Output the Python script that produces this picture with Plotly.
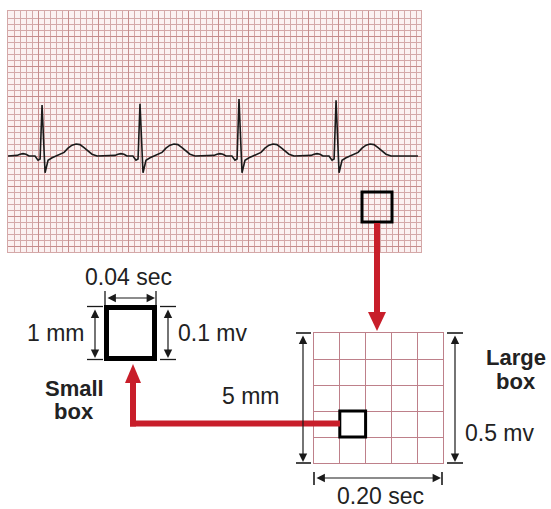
import plotly.graph_objects as go

W, H = 551, 509

# ---------------- data ----------------
# ECG rhythm strip (time in seconds, amplitude in millivolts)
R_PEAK_TIMES = [0.227, 0.880, 1.540, 2.187]
R_AMPLITUDES = [0.85, 0.87, 0.95, 0.93]
BEAT_OFFSETS_S = [-0.200, -0.167, -0.147, -0.127, -0.107, -0.087, -0.047, -0.027, -0.013,
                  0.000, 0.020, 0.040, 0.067, 0.107, 0.147, 0.173, 0.200, 0.227, 0.253,
                  0.280, 0.307, 0.333, 0.367, 0.400]
BEAT_VALUES_MV = [0.00, 0.01, 0.03, 0.04, 0.03, 0.00, 0.00, -0.07, -0.05,
                  None, -0.28, -0.07, -0.03, 0.01, 0.06, 0.13, 0.18, 0.20, 0.19,
                  0.14, 0.08, 0.03, 0.00, 0.00]
STRIP_START_S = 0.0
STRIP_END_S = 2.733

# ECG paper units
SMALL_BOX_S = 0.04
SMALL_BOX_MV = 0.1
LARGE_BOX_S = 0.20
LARGE_BOX_MV = 0.5

# highlighted large box on strip (s, mV)
HILITE_T = [2.36, 2.56]
HILITE_V = [-1.10, -0.60]

# labels
LBL_SMALL_W = "0.04 sec"
LBL_SMALL_H = "1 mm"
LBL_SMALL_V = "0.1 mv"
LBL_LARGE_W = "0.20 sec"
LBL_LARGE_H = "5 mm"
LBL_LARGE_V = "0.5 mv"
LBL_SMALL = ["Small", "box"]
LBL_LARGE = ["Large", "box"]

# ---------------- build ECG trace ----------------
ecg_t = [STRIP_START_S]
ecg_v = [0.0]
for rt, ra in zip(R_PEAK_TIMES, R_AMPLITUDES):
    for off, val in zip(BEAT_OFFSETS_S, BEAT_VALUES_MV):
        ecg_t.append(rt + off)
        ecg_v.append(ra if val is None else val)
ecg_t.append(STRIP_END_S)
ecg_v.append(0.0)

def px_dom_x(a, b):
    return [a / W, b / W]

def px_dom_y(top, bottom):
    return [1 - bottom / H, 1 - top / H]

MINOR_C = "rgb(212,168,168)"
MAJOR_C = "rgb(198,140,140)"
BOX_GRID_C = "rgb(190,128,138)"
RED = "rgb(200,30,42)"
TXT = "#222222"
FONT = "Liberation Sans, Arial, Helvetica, sans-serif"

fig = go.Figure()

fig.add_trace(go.Scatter(x=[0], y=[0], mode="markers", marker=dict(opacity=0),
                         hoverinfo="skip", showlegend=False, xaxis="x", yaxis="y"))
fig.add_trace(go.Scatter(x=ecg_t, y=ecg_v, mode="lines",
                         line=dict(color="#1a1a1a", width=1.6),
                         hoverinfo="skip", showlegend=False, xaxis="x2", yaxis="y2"))
fig.add_trace(go.Scatter(x=[0], y=[0], mode="markers", marker=dict(opacity=0),
                         hoverinfo="skip", showlegend=False, xaxis="x3", yaxis="y3"))

noax = dict(visible=False, fixedrange=True)
grid_ax = dict(showticklabels=False, ticks="", zeroline=False, fixedrange=True,
               showline=True, mirror=True)

fig.update_layout(
    width=W, height=H,
    margin=dict(l=0, r=0, t=0, b=0),
    paper_bgcolor="white", plot_bgcolor="rgba(0,0,0,0)",
    showlegend=False,
    xaxis=dict(range=[0, W], domain=[0, 1], **noax),
    yaxis=dict(range=[H, 0], domain=[0, 1], **noax),
    xaxis2=dict(range=[0, 413 / 150], domain=px_dom_x(8, 421), anchor="y2",
                tick0=0, dtick=LARGE_BOX_S, showgrid=True, gridcolor=MAJOR_C, gridwidth=1,
                minor=dict(dtick=SMALL_BOX_S, showgrid=True, gridcolor=MINOR_C, gridwidth=1),
                linecolor=MINOR_C, **grid_ax),
    yaxis2=dict(range=[-96 / 60, 145 / 60], domain=px_dom_y(11, 252), anchor="x2",
                tick0=0, dtick=LARGE_BOX_MV, showgrid=True, gridcolor=MAJOR_C, gridwidth=1,
                minor=dict(dtick=SMALL_BOX_MV, showgrid=True, gridcolor=MINOR_C, gridwidth=1),
                linecolor=MINOR_C, **grid_ax),
    xaxis3=dict(range=[0, LARGE_BOX_S], domain=px_dom_x(314, 443), anchor="y3",
                tick0=0, dtick=SMALL_BOX_S, showgrid=True, gridcolor=BOX_GRID_C, gridwidth=1,
                linecolor=BOX_GRID_C, **grid_ax),
    yaxis3=dict(range=[0, LARGE_BOX_MV], domain=px_dom_y(333, 463), anchor="x3",
                tick0=0, dtick=SMALL_BOX_MV, showgrid=True, gridcolor=BOX_GRID_C, gridwidth=1,
                linecolor=BOX_GRID_C, **grid_ax),
)

shapes = []
shapes.append(dict(type="rect", xref="x2 domain", yref="y2 domain", x0=0, x1=1, y0=0, y1=1,
                   fillcolor="rgb(251,241,241)", line=dict(width=0), layer="below"))
shapes.append(dict(type="rect", xref="x2", yref="y2", x0=HILITE_T[0], x1=HILITE_T[1],
                   y0=HILITE_V[0], y1=HILITE_V[1], line=dict(color="black", width=3),
                   layer="above"))
shapes.append(dict(type="rect", xref="x3", yref="y3", x0=SMALL_BOX_S, x1=2 * SMALL_BOX_S,
                   y0=SMALL_BOX_MV, y1=2 * SMALL_BOX_MV, line=dict(color="black", width=3),
                   layer="above"))
shapes.append(dict(type="rect", xref="x", yref="y", x0=106.5, x1=154.5, y0=307.5, y1=358.5,
                   line=dict(color="black", width=5), layer="above"))

def rect(x0, x1, y0, y1, color):
    return dict(type="rect", xref="x", yref="y", x0=x0, x1=x1, y0=y0, y1=y1,
                fillcolor=color, line=dict(width=0), layer="above")

def tri(pts, color):
    d = "M " + " L ".join(f"{x},{y}" for x, y in pts) + " Z"
    return dict(type="path", xref="x", yref="y", path=d, fillcolor=color,
                line=dict(width=0), layer="above")

shapes.append(rect(374, 380, 223, 313, RED))
shapes.append(tri([(368, 312), (386, 312), (377, 331)], RED))
shapes.append(rect(130, 340, 420.5, 426.5, RED))
shapes.append(rect(130, 136, 382, 426.5, RED))
shapes.append(tri([(125, 383), (141, 383), (133, 364)], RED))

def ln(x0, y0, x1, y1, w=1.3):
    return dict(type="line", xref="x", yref="y", x0=x0, y0=y0, x1=x1, y1=y1,
                line=dict(color="#1a1a1a", width=w), layer="above")

shapes += [ln(105, 291, 105, 305), ln(156, 291, 156, 305),
           ln(87, 306.5, 103, 306.5), ln(87, 359.5, 103, 359.5),
           ln(160, 306.5, 176, 306.5), ln(160, 359.5, 176, 359.5)]
shapes += [ln(296, 333, 311, 333, 1.6), ln(296, 463, 311, 463, 1.6),
           ln(447, 333, 463, 333, 1.6), ln(447, 463, 463, 463, 1.6),
           ln(314, 472, 314, 485, 1.6), ln(442, 472, 442, 485, 1.6)]

annotations = []

def dim(x0, y0, x1, y1):
    annotations.append(dict(x=x1, y=y1, ax=x0, ay=y0, xref="x", yref="y", axref="x", ayref="y",
                            text="", showarrow=True, arrowhead=2, startarrowhead=2,
                            arrowside="end+start", arrowsize=1.4, startarrowsize=1.4,
                            arrowwidth=1.2, arrowcolor="#1a1a1a", standoff=0, startstandoff=0))

dim(106, 298, 155, 298)
dim(95, 308, 95, 358)
dim(168, 308, 168, 358)
dim(303, 334, 303, 462)
dim(455, 334, 455, 462)
dim(315, 478, 441, 478)

def txt(s, x, y, anchor="center", bold=False, size=23):
    annotations.append(dict(x=x, y=y, xref="x", yref="y", text=(f"<b>{s}</b>" if bold else s),
                            showarrow=False, xanchor=anchor, yanchor="middle",
                            font=dict(family=FONT, size=size, color=TXT)))

txt(LBL_SMALL_W, 128, 277)
txt(LBL_SMALL_H, 87, 333, "right")
txt(LBL_SMALL_V, 176, 333, "left")
txt(LBL_SMALL[0], 74, 388, bold=True, size=22)
txt(LBL_SMALL[1], 74, 411, bold=True, size=22)
txt(LBL_LARGE[0], 516, 357, bold=True, size=22)
txt(LBL_LARGE[1], 516, 381, bold=True, size=22)
txt(LBL_LARGE_H, 282, 396, "right")
txt(LBL_LARGE_V, 463, 433, "left")
txt(LBL_LARGE_W, 380, 496)

fig.update_layout(shapes=shapes, annotations=annotations)
fig.write_html("out.html", config={"displayModeBar": False},
               post_script="document.body.style.margin='0';document.body.style.padding='0';")
